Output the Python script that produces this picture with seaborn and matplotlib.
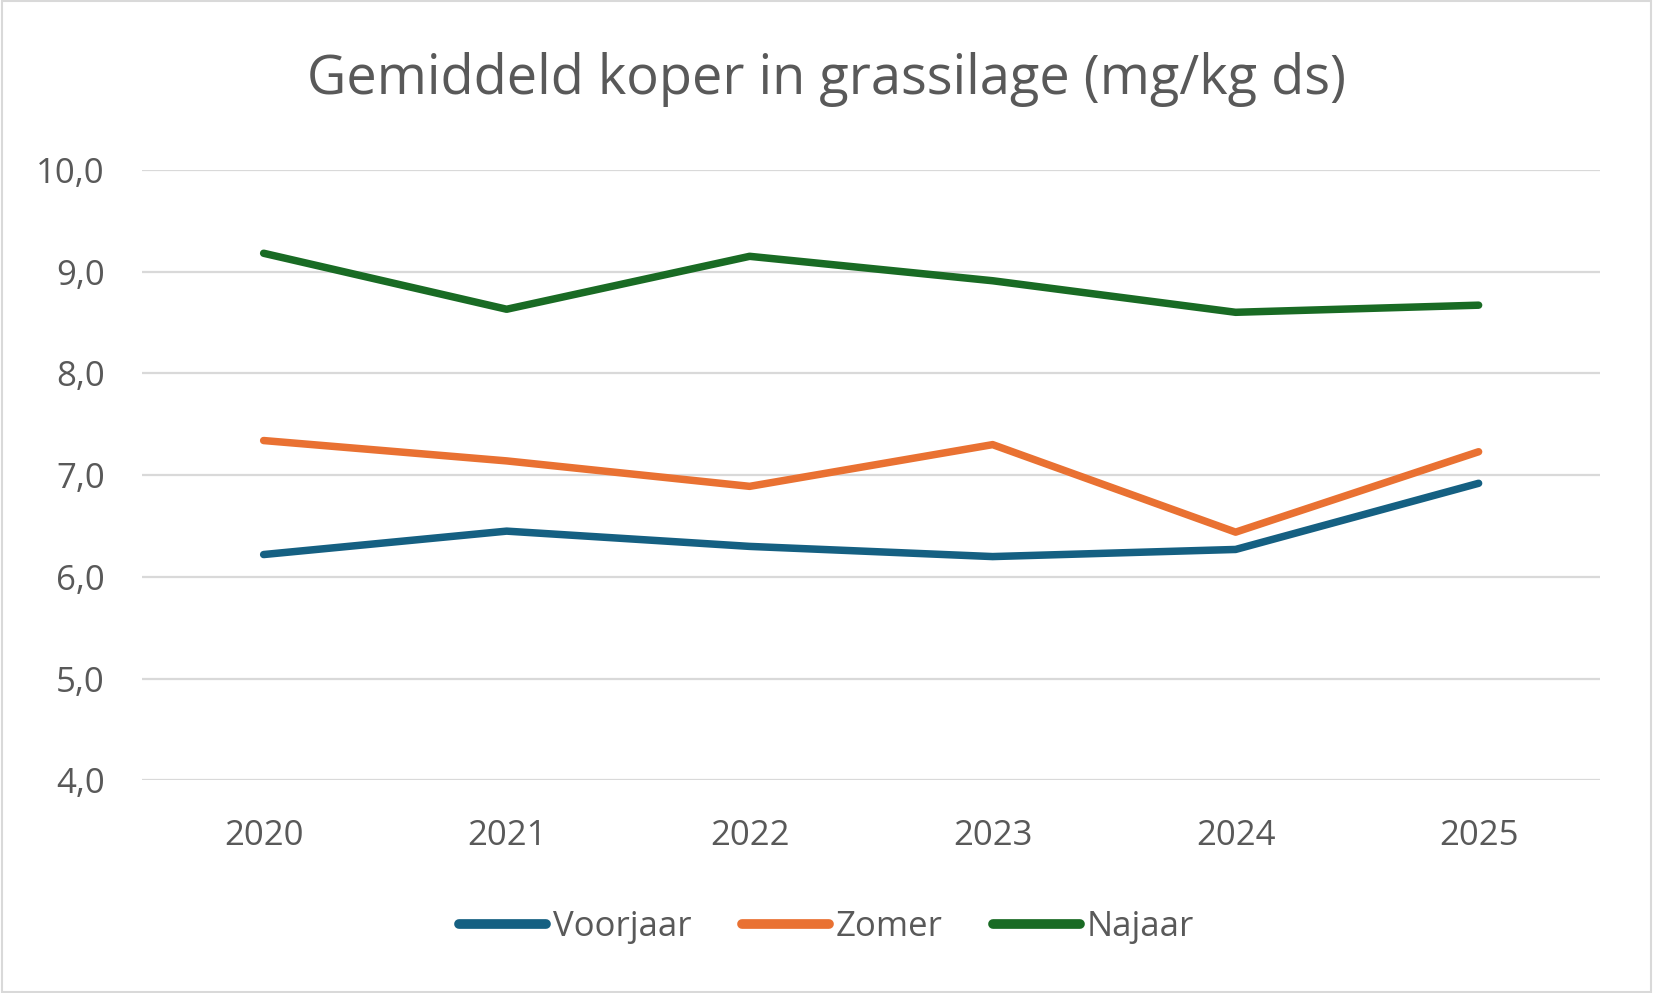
import matplotlib
matplotlib.use("Agg")
import matplotlib.pyplot as plt
import seaborn as sns
import pandas as pd
from matplotlib.ticker import FuncFormatter, MultipleLocator
from matplotlib.patches import Rectangle
from matplotlib.lines import Line2D

years = ["2020", "2021", "2022", "2023", "2024", "2025"]
voorjaar = [6.22, 6.45, 6.30, 6.20, 6.27, 6.92]
zomer = [7.34, 7.14, 6.89, 7.30, 6.44, 7.23]
najaar = [9.18, 8.63, 9.15, 8.91, 8.60, 8.67]
series_names = ["Voorjaar", "Zomer", "Najaar"]
colors = ["#156082", "#E97132", "#196B24"]

rows = []
for name, vals in zip(series_names, [voorjaar, zomer, najaar]):
    for i, (y, v) in enumerate(zip(years, vals)):
        rows.append({"idx": i, "Jaar": y, "Seizoen": name, "Waarde": v})
df = pd.DataFrame(rows)

sns.set_theme(style="white")
plt.rcParams["font.family"] = ["Open Sans", "DejaVu Sans"]
text_color = "#595959"

fig = plt.figure(figsize=(16.53, 9.93), dpi=100)
ax = fig.add_axes([0.086, 0.214, 0.882, 0.615])

sns.lineplot(data=df, x="idx", y="Waarde", hue="Seizoen", hue_order=series_names,
             palette=colors, linewidth=5.4, ax=ax, legend=False,
             solid_capstyle="round", solid_joinstyle="round")

ax.set_xlim(-0.5, 5.5)
ax.set_ylim(4.0, 10.0)
ax.set_xticks(range(len(years)))
ax.set_xticklabels(years)
ax.yaxis.set_major_locator(MultipleLocator(1.0))
ax.yaxis.set_major_formatter(FuncFormatter(lambda v, p: f"{v:.1f}".replace(".", ",")))
ax.grid(axis="y", color="#D9D9D9", linewidth=1.6)
ax.set_axisbelow(True)
for s in ax.spines.values():
    s.set_visible(False)
ax.tick_params(axis="both", length=0, labelsize=25, colors=text_color)
ax.tick_params(axis="x", pad=28)
ax.tick_params(axis="y", pad=27)
ax.set_xlabel("")
ax.set_ylabel("")

fig.text(0.5, 0.920, "Gemiddeld koper in grassilage (mg/kg ds)", ha="center", va="center",
         fontsize=39, color=text_color)

handles = [Line2D([0], [0], color=c, linewidth=7, solid_capstyle="round") for c in colors]
leg = fig.legend(handles, series_names, loc="center", bbox_to_anchor=(0.5, 0.066),
                 ncol=3, frameon=False, fontsize=25, handlelength=2.5,
                 handletextpad=0.2, columnspacing=1.45)
for t in leg.get_texts():
    t.set_color(text_color)

fig.patches.append(Rectangle((0.001, 0.001), 0.998, 0.998, transform=fig.transFigure,
                             fill=False, edgecolor="#D9D9D9", linewidth=1.5))

fig.savefig("out.png", dpi=100, facecolor="white")
